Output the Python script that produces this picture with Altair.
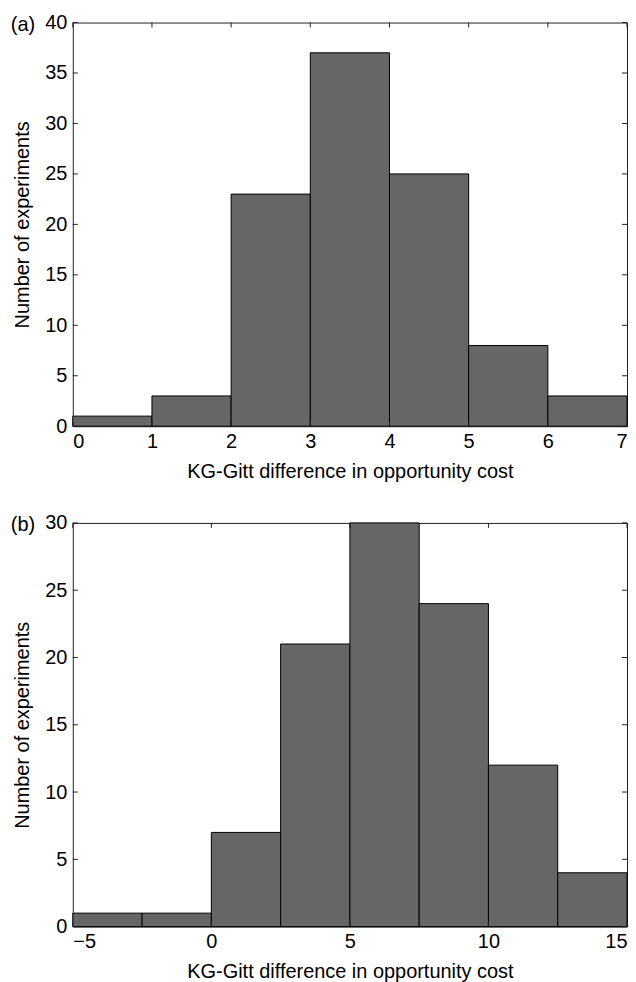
import altair as alt
import pandas as pd

# ---- data ----
a_edges = [0, 1, 2, 3, 4, 5, 6, 7]
a_counts = [1, 3, 23, 37, 25, 8, 3]
a_xticks = [0, 1, 2, 3, 4, 5, 6, 7]
a_yticks = [0, 5, 10, 15, 20, 25, 30, 35, 40]

b_edges = [-5, -2.5, 0, 2.5, 5, 7.5, 10, 12.5, 15]
b_counts = [1, 1, 7, 21, 30, 24, 12, 4]
b_xticks = [-5, 0, 5, 10, 15]
b_yticks = [0, 5, 10, 15, 20, 25, 30]

W, H = 556, 405
FONT = "Liberation Sans"
FS = 20
TICK = 5
XT = "KG-Gitt difference in opportunity cost"
YT = "Number of experiments"


def panel(edges, counts, xticks, yticks, xdom, ydom, tag):
    bars = pd.DataFrame({"start": edges[:-1], "end": edges[1:], "count": counts})
    xs = alt.Scale(domain=xdom, nice=False, zero=False)
    ys = alt.Scale(domain=ydom, nice=False)
    xax = alt.Axis(values=xticks, ticks=False, domain=False, grid=False,
                   labelPadding=5, titlePadding=10, format="~g")
    yax = alt.Axis(values=yticks, ticks=False, domain=False, grid=False,
                   labelPadding=6, titlePadding=12, format="~g")
    base = alt.Chart(bars).mark_rect(fill="#666666", stroke="black", strokeWidth=1).encode(
        x=alt.X("start:Q", scale=xs, title=XT, axis=xax),
        x2="end:Q",
        y=alt.Y("count:Q", scale=ys, title=YT, axis=yax),
        y2=alt.datum(0),
    )
    xt = pd.DataFrame({"t": xticks})
    yt = pd.DataFrame({"t": yticks})
    rule = dict(color="#222222", strokeWidth=1)
    xbot = alt.Chart(xt).mark_rule(**rule).encode(
        x=alt.X("t:Q", scale=xs, title=XT, axis=xax), y=alt.value(H), y2=alt.value(H - TICK))
    xtop = alt.Chart(xt).mark_rule(**rule).encode(
        x=alt.X("t:Q", scale=xs, title=XT, axis=xax), y=alt.value(0), y2=alt.value(TICK))
    yl = alt.Chart(yt).mark_rule(**rule).encode(
        y=alt.Y("t:Q", scale=ys, title=YT, axis=yax), x=alt.value(0), x2=alt.value(TICK))
    yr = alt.Chart(yt).mark_rule(**rule).encode(
        y=alt.Y("t:Q", scale=ys, title=YT, axis=yax), x=alt.value(W), x2=alt.value(W - TICK))
    lab = alt.Chart(alt.Data(values=[{"s": tag}])).mark_text(
        font=FONT, fontSize=FS, align="center", baseline="middle", color="black"
    ).encode(text="s:N", x=alt.value(-50), y=alt.value(2))
    return alt.layer(base, xbot, xtop, yl, yr, lab).properties(width=W, height=H)


top = panel(a_edges, a_counts, a_xticks, a_yticks, [0, 7], [0, 40], "(a)")
bot = panel(b_edges, b_counts, b_xticks, b_yticks, [-5, 15], [0, 30], "(b)")

chart = alt.vconcat(top, bot).properties(
    padding={"left": 2, "top": 2, "right": 0, "bottom": 0}
).configure_view(stroke="#222222", strokeWidth=1).configure_axis(
    labelFont=FONT, titleFont=FONT, labelFontSize=FS, titleFontSize=FS,
    labelColor="black", titleColor="black", titleFontWeight="normal"
).configure_concat(spacing=30)

chart.save("out.html", embed_options={"renderer": "svg", "actions": False})
